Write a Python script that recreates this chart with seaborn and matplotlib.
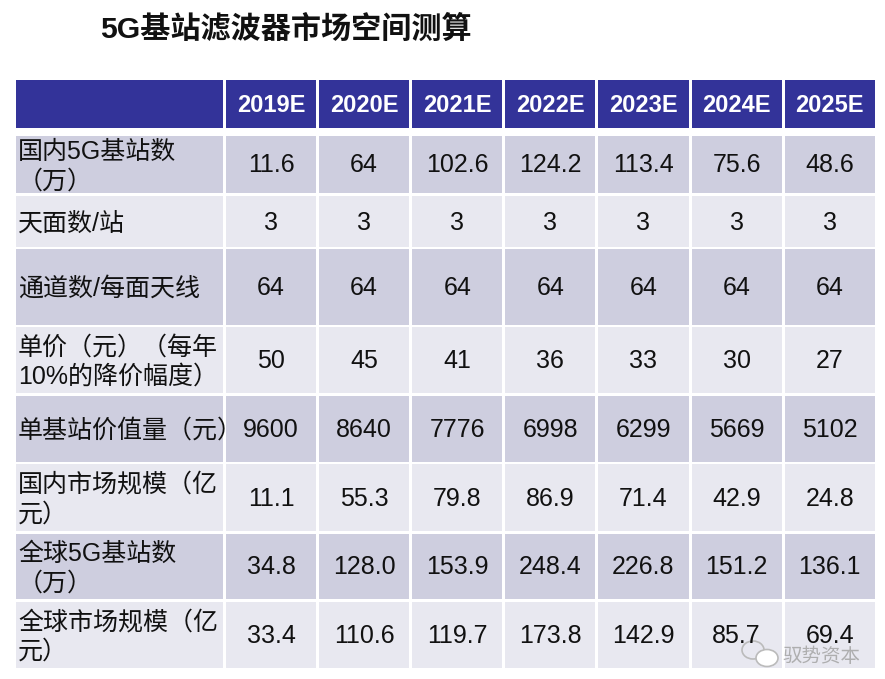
import matplotlib.pyplot as plt
import seaborn as sns
import pandas as pd
from matplotlib.patches import Rectangle, Ellipse

sns.set_theme(style="white")
plt.rcParams['font.family'] = ['Liberation Sans', 'Noto Sans CJK SC', 'DejaVu Sans']

title = '5G基站滤波器市场空间测算'
years = ['2019E', '2020E', '2021E', '2022E', '2023E', '2024E', '2025E']
row_labels = [
    '国内5G基站数\n（万）',
    '天面数/站',
    '通道数/每面天线',
    '单价（元）（每年\n10%的降价幅度）',
    '单基站价值量（元）',
    '国内市场规模（亿\n元）',
    '全球5G基站数\n（万）',
    '全球市场规模（亿\n元）',
]
domestic_stations = ['11.6', '64', '102.6', '124.2', '113.4', '75.6', '48.6']
faces_per_station = ['3', '3', '3', '3', '3', '3', '3']
channels_per_face = ['64', '64', '64', '64', '64', '64', '64']
unit_price = ['50', '45', '41', '36', '33', '30', '27']
value_per_station = ['9600', '8640', '7776', '6998', '6299', '5669', '5102']
domestic_market = ['11.1', '55.3', '79.8', '86.9', '71.4', '42.9', '24.8']
global_stations = ['34.8', '128.0', '153.9', '248.4', '226.8', '151.2', '136.1']
global_market = ['33.4', '110.6', '119.7', '173.8', '142.9', '85.7', '69.4']

df = pd.DataFrame(
    [domestic_stations, faces_per_station, channels_per_face, unit_price,
     value_per_station, domestic_market, global_stations, global_market],
    index=row_labels, columns=years)

# layout in pixels
W, H = 885, 679
first_col = (16, 223)
col_x0, col_w, col_gap = 226, 90.1, 3.0
header_y = (80, 128)
row_y = [(136, 193), (196, 247), (249, 325), (327, 393),
         (396, 462), (464, 531), (534, 599), (602, 668)]

header_color = '#333399'
dark_row = '#CECEDF'
light_row = '#E8E8F0'

fig = plt.figure(figsize=(W / 100, H / 100), dpi=100)
ax = fig.add_axes([0, 0, 1, 1])
ax.set_xlim(0, W)
ax.set_ylim(H, 0)
ax.axis('off')

ax.text(100, 29, title, fontsize=21.7, fontweight='bold', color='#111111',
        ha='left', va='center')

# header
ax.add_patch(Rectangle((first_col[0], header_y[0]), first_col[1] - first_col[0],
                       header_y[1] - header_y[0], color=header_color, lw=0))
for j, yr in enumerate(df.columns):
    x0 = col_x0 + j * (col_w + col_gap)
    ax.add_patch(Rectangle((x0, header_y[0]), col_w, header_y[1] - header_y[0],
                           color=header_color, lw=0))
    ax.text(x0 + col_w / 2, (header_y[0] + header_y[1]) / 2 + 1, yr,
            fontsize=17, fontweight='bold', color='white', ha='center', va='center')

# body
for i, (label, (y0, y1)) in enumerate(zip(df.index, row_y)):
    fc = dark_row if i % 2 == 0 else light_row
    cell = Rectangle((first_col[0], y0), first_col[1] - first_col[0], y1 - y0,
                     color=fc, lw=0)
    ax.add_patch(cell)
    t = ax.text(first_col[0] + 2, (y0 + y1) / 2 + 2, label, fontsize=18,
                color='#111111', ha='left', va='center', linespacing=1.3)
    t.set_clip_path(cell)
    for j, val in enumerate(df.iloc[i]):
        x0 = col_x0 + j * (col_w + col_gap)
        ax.add_patch(Rectangle((x0, y0), col_w, y1 - y0, color=fc, lw=0))
        ax.text(x0 + col_w / 2, (y0 + y1) / 2 + 1, val, fontsize=18,
                color='#111111', ha='center', va='center')

# watermark
ax.add_patch(Ellipse((753, 650), 22, 18, fill=False, ec='#BBBBBB', lw=1.2))
ax.add_patch(Ellipse((767, 658), 22, 17, fill=True, fc='white', ec='#BBBBBB', lw=1.2))
ax.text(782, 657, '驭势资本', fontsize=14, color='#A8A8A8', ha='left', va='center',
        alpha=0.9)

fig.savefig('out.png', dpi=100)
